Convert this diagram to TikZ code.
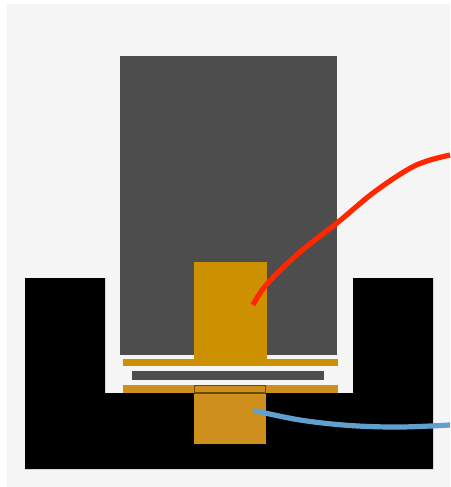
\documentclass[tikz,border=0pt]{standalone}
\definecolor{bgc}{HTML}{F5F5F5}
\definecolor{grayc}{HTML}{4D4D4D}
\definecolor{orangeA}{HTML}{CC9000}
\definecolor{orangeB}{HTML}{CF8F1D}
\definecolor{edgeB}{HTML}{6B4A08}
\definecolor{redw}{HTML}{FF2600}
\definecolor{bluew}{HTML}{619FCF}
\tikzset{
  px/.style={x=1pt,y=-1pt},
  wire/.style={line width=5.2pt,line cap=butt},
}
\begin{document}
\begin{tikzpicture}[px]
\useasboundingbox (0,0) rectangle (450,487);
\fill[white] (0,0) rectangle (450,487);
\fill[bgc] (7,4) rectangle (450,487);
% housing
\fill[black] (25,278) -- (105,278) -- (105,393) -- (353,393) -- (353,278) -- (433,278) -- (433,469) -- (25,469) -- cycle;
% upper block and plates
\fill[grayc] (120,56) rectangle (337,355);
\fill[orangeA] (123,359) rectangle (338,366);
\fill[grayc] (132,371) rectangle (324,380);
\fill[orangeB] (123,385) rectangle (338,393);
% columns
\fill[orangeA] (194,262) rectangle (267,366);
\fill[orangeB] (194,385) rectangle (266,444);
\draw[edgeB,line width=1.2pt] (194.6,385.6) rectangle (265.4,393);
% wires
\coordinate (redA) at (253,305);
\coordinate (redB) at (450,155);
\coordinate (blueA) at (254,410.5);
\coordinate (blueB) at (450,425);
\draw[wire,redw] plot[smooth,tension=0.6] coordinates {(redA) (267,284) (300,252) (337,223) (373,193) (407,170) (427,161) (redB)};
\draw[wire,bluew] plot[smooth,tension=0.6] coordinates {(blueA) (300,420) (350,425.5) (400,427) (blueB)};
\end{tikzpicture}
\end{document}
